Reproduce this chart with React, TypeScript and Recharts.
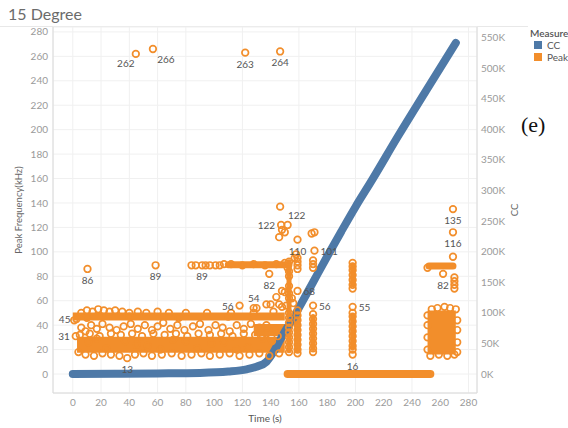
import React from 'react';
import { ComposedChart, Line, Scatter, XAxis, YAxis, CartesianGrid, LabelList } from 'recharts';

const FONT = 'Lato, "Open Sans", sans-serif';
const BLUE = '#4e79a7';
const ORANGE = '#f28e2b';

const timeTicks = [0, 20, 40, 60, 80, 100, 120, 140, 160, 180, 200, 220, 240, 260, 280];
const peakTicks = [0, 20, 40, 60, 80, 100, 120, 140, 160, 180, 200, 220, 240, 260, 280];
const ccTicks = [0, 50000, 100000, 150000, 200000, 250000, 300000, 350000, 400000, 450000, 500000, 550000];

// cumulative counts (CC) against time
const ccTime = [0, 30, 60, 90, 110, 123, 130, 137, 142, 147, 151, 156, 160, 170, 180, 190, 200, 212, 230, 250, 271];
const ccCount = [0, 500, 1000, 1800, 4000, 7700, 12000, 20000, 36000, 57000, 73000, 91000, 108000, 150000, 192000, 233000, 273000, 318000, 388000, 463000, 541000];

// solid runs of peak frequency hits, [time, kHz]
const lowCloud = [[3, 24], [150, 24]];
const upperBand = [[0, 47], [150, 47]];
const cloudJoin = [[128, 36], [151, 36]];
const row89 = [[110, 89.5], [153, 89.5]];
const zeroRun = [[152, 0], [253, 0]];
const lateBlock = [[251, 34], [271, 34]];
const lateRow = [[252, 88.5], [269, 88.5]];

// dense vertical stacks of hits, [time, kHz]
const stack153 = [[153, 19], [153, 92]];
const stack159 = [[159, 19], [159, 50]];
const stack170 = [[170, 21], [170, 47]];
const stack198Low = [[198, 22], [198, 48]];
const stack198High = [[198, 73], [198, 89]];

// individual peak hits, [time, kHz]
const peakHits = [
  // upper edge of the 45 kHz band
  [1, 44], [6, 50], [10, 52], [14, 51], [18, 53], [22, 52], [26, 51], [30, 52], [35, 51], [40, 50], [46, 51],
  [52, 50], [60, 51], [68, 50], [80, 50], [95, 50], [112, 50], [128, 50], [142, 51], [10, 46], [40, 47], [75, 46], [110, 47],
  // between the band and the low cloud
  [6, 38], [9, 35], [13, 40], [17, 37], [21, 41], [26, 38], [31, 36], [36, 39], [41, 41], [46, 37], [51, 40],
  [56, 36], [60, 39], [64, 42], [69, 37], [74, 40], [79, 36], [85, 39], [90, 41], [96, 36], [101, 40], [106, 38],
  [111, 35], [116, 40], [121, 37], [126, 41], [132, 38], [137, 40], [143, 37],
  [5, 32], [12, 33], [19, 31], [27, 33], [34, 32], [42, 33], [49, 31], [57, 33], [65, 32], [73, 33], [81, 31],
  [89, 33], [97, 32], [105, 33], [113, 31], [121, 33], [129, 32], [137, 33], [145, 31],
  // lower edge and inside of the low cloud
  [4, 18], [9, 16], [15, 15], [21, 17], [27, 16], [33, 15], [44, 16], [50, 17], [56, 15], [63, 16], [70, 17],
  [77, 15], [84, 16], [91, 17], [97, 15], [104, 16], [111, 17], [118, 15], [125, 16], [132, 17], [139, 15], [146, 17],
  [11, 26], [24, 21], [37, 27], [53, 23], [71, 28], [88, 21], [107, 26], [124, 22], [141, 27], [17, 29], [62, 20],
  [98, 25], [134, 29], [45, 24], [80, 27], [116, 20],
  // 89 kHz row
  [84, 89], [87, 89], [94, 89], [97, 89], [101, 89], [104, 89], [107, 90], [112, 90], [120, 89], [128, 90],
  [136, 89], [144, 90], [150, 91], [152, 87],
  // 55-70 kHz scatter
  [130, 54], [137, 57], [140, 57], [146, 57], [148, 55], [151, 56], [148, 68], [144, 63], [150, 67], [155, 62],
  [153, 72], [156, 58],
  // high hits around 150 s
  [146.7, 137], [148, 118], [150, 116], [146, 112], [169, 115], [171, 116], [158, 98], [157, 95],
  // columns
  [153, 18], [153, 22], [153, 26], [153, 30], [153, 34], [153, 38], [153, 42], [153, 46], [153, 50], [153, 62],
  [153, 66], [153, 80], [153, 84], [153, 92],
  [159, 17], [159, 20], [159, 24], [159, 28], [159, 32], [159, 36], [159, 40], [159, 44], [159, 48], [159, 52],
  [159, 86], [159, 89], [159, 92], [159, 95],
  [170, 18], [170, 21], [170, 25], [170, 29], [170, 33], [170, 37], [170, 41], [170, 45], [170, 49], [170, 87],
  [170, 90], [170, 93],
  [198, 20], [198, 23], [198, 27], [198, 31], [198, 35], [198, 39], [198, 43], [198, 47], [198, 50], [198, 70],
  [198, 73], [198, 77], [198, 81], [198, 85], [198, 88], [198, 91],
  // late block
  [251, 20], [251, 30], [251, 40], [251, 48], [254, 53], [258, 54], [263, 55], [267, 54], [271, 53], [272, 44],
  [272, 36], [272, 26], [272, 18], [253, 15], [259, 16], [265, 15], [270, 16],
  [269, 96], [270, 79], [270, 76], [270, 73], [270, 70], [251, 87],
];

// hits carrying a value label, [time, kHz]
const labeledHits = [
  [44.6, 262], [56.7, 266], [122, 263], [146.7, 264],
  [10.4, 86], [58.6, 89], [91.5, 89],
  [2.6, 45], [2.1, 31], [38.5, 13],
  [118, 56], [128, 54], [139, 82],
  [147.4, 122], [152, 122], [159, 110], [171, 101], [159, 68], [170, 56],
  [198, 55], [198, 16],
  [269, 135], [269, 116], [262, 82],
];
const labelSide = [
  'belowLeft', 'belowRight', 'below', 'below',
  'below', 'below', 'below',
  'left', 'left', 'below',
  'left', 'above', 'below',
  'left', 'aboveRight', 'below', 'right', 'right', 'right',
  'right', 'below',
  'below', 'below', 'below',
];

const toPoints = (pairs: number[][]) => pairs.map(([t, v]) => ({ t, v }));
const ccData = ccTime.map((t, i) => ({ t, cc: ccCount[i] }));

const Ring = (props: any) => (
  <circle cx={props.cx} cy={props.cy} r={3.3} fill="none" stroke={ORANGE} strokeWidth={1.7} />
);

const renderPeakLabel = (props: any) => {
  const { x = 0, y = 0, width = 0, height = 0, value, index } = props;
  const cx = x + width / 2;
  const cy = y + height / 2;
  const side = labelSide[index] || 'below';
  let tx = cx;
  let ty = cy + 11;
  let anchor: 'start' | 'middle' | 'end' = 'middle';
  if (side === 'left') { tx = cx - 6; ty = cy; anchor = 'end'; }
  if (side === 'right') { tx = cx + 6; ty = cy; anchor = 'start'; }
  if (side === 'above') { ty = cy - 10; }
  if (side === 'aboveRight') { tx = cx + 9; ty = cy - 10; }
  if (side === 'belowLeft') { tx = cx - 10; ty = cy + 9; }
  if (side === 'belowRight') { tx = cx + 13; ty = cy + 10; }
  return (
    <text x={tx} y={ty} textAnchor={anchor} dominantBaseline="central" fontSize={10} fill="#555" fontFamily={FONT}>
      {value}
    </text>
  );
};

const VerticalTitle = ({ viewBox, text, dx }: any) => {
  const x = (viewBox?.x ?? 0) + dx;
  const y = (viewBox?.y ?? 0) + (viewBox?.height ?? 0) / 2;
  return (
    <text x={x} y={y} transform={`rotate(-90 ${x} ${y})`} textAnchor="middle" dominantBaseline="central"
      fontSize={9.5} fill="#666" fontFamily={FONT}>
      {text}
    </text>
  );
};

const TimeTitle = ({ viewBox }: any) => {
  const x = (viewBox?.x ?? 0) + (viewBox?.width ?? 0) / 2;
  const y = (viewBox?.y ?? 0) + 25;
  return (
    <text x={x} y={y} textAnchor="middle" dominantBaseline="central" fontSize={10} fill="#555" fontFamily={FONT}>
      Time (s)
    </text>
  );
};

const tickStyle = { fill: '#9a9a9a', fontSize: 10, fontFamily: FONT };
const formatK = (v: number) => `${v / 1000}K`;

// thick orange run drawn through the peak axis
const run = (pairs: number[][], width: number, cap: 'butt' | 'round' = 'butt') => (
  <Line
    yAxisId="peak"
    data={toPoints(pairs)}
    dataKey="v"
    stroke={ORANGE}
    strokeWidth={width}
    strokeLinecap={cap}
    dot={false}
    activeDot={false}
    isAnimationActive={false}
  />
);

export default function App() {
  return (
    <div style={{ position: 'absolute', left: 0, top: 0, width: 568, height: 428, overflow: 'hidden', background: '#fff', fontFamily: FONT }}>
      <div style={{ position: 'absolute', left: 8, top: 4, fontSize: 16, color: '#6b6b6b' }}>15 Degree</div>
      <div style={{ position: 'absolute', left: 0, top: 26, width: 528, height: 1, background: '#e8e8e8' }} />
      <ComposedChart width={568} height={428} margin={{ top: 27, right: 41, bottom: 0, left: 0 }}>
        <CartesianGrid yAxisId="peak" stroke="#f0f0f0" horizontal vertical />
        <XAxis
          type="number"
          dataKey="t"
          domain={[-14, 286]}
          ticks={timeTicks}
          height={35}
          tickLine={false}
          tickSize={0}
          tickMargin={6}
          axisLine={{ stroke: '#dadada' }}
          tick={tickStyle}
          label={<TimeTitle />}
        />
        <YAxis
          yAxisId="peak"
          type="number"
          dataKey="v"
          domain={[-15.5, 284]}
          ticks={peakTicks}
          width={53}
          tickLine={false}
          tickSize={0}
          tickMargin={5}
          axisLine={{ stroke: '#dadada' }}
          tick={tickStyle}
          allowDataOverflow
          label={<VerticalTitle text="Peak Frequency(kHz)" dx={18} />}
        />
        <YAxis
          yAxisId="cc"
          orientation="right"
          type="number"
          dataKey="cc"
          domain={[-31000, 567000]}
          ticks={ccTicks}
          tickFormatter={formatK}
          width={50}
          tickLine={false}
          tickSize={0}
          tickMargin={4}
          axisLine={{ stroke: '#dadada' }}
          tick={tickStyle}
          allowDataOverflow
          label={<VerticalTitle text="CC" dx={37} />}
        />

        {run(lowCloud, 16)}
        {run(upperBand, 8)}
        {run(cloudJoin, 12)}
        {run(row89, 7, 'round')}
        {run(zeroRun, 8, 'round')}
        {run(lateBlock, 44)}
        {run(lateRow, 7, 'round')}
        {run(stack153, 5, 'round')}
        {run(stack159, 5, 'round')}
        {run(stack170, 5, 'round')}
        {run(stack198Low, 5, 'round')}
        {run(stack198High, 5, 'round')}

        <Scatter yAxisId="peak" data={toPoints(peakHits)} dataKey="v" shape={Ring} isAnimationActive={false} />
        <Scatter yAxisId="peak" data={toPoints(labeledHits)} dataKey="v" shape={Ring} isAnimationActive={false}>
          <LabelList dataKey="v" content={renderPeakLabel} />
        </Scatter>

        <Line yAxisId="cc" data={ccData} dataKey="cc" type="monotone" stroke={BLUE} strokeWidth={8} strokeLinecap="round" strokeLinejoin="round" dot={false} activeDot={false} isAnimationActive={false} />
      </ComposedChart>

      <div style={{ position: 'absolute', left: 530, top: 27, fontSize: 10, color: '#555', whiteSpace: 'nowrap', lineHeight: '12px' }}>
        <div style={{ fontWeight: 600 }}>Measure</div>
        <div style={{ display: 'flex', alignItems: 'center' }}>
          <span style={{ width: 8, height: 8, background: BLUE, marginLeft: 4, marginRight: 5, display: 'inline-block' }} />CC
        </div>
        <div style={{ display: 'flex', alignItems: 'center' }}>
          <span style={{ width: 8, height: 8, background: ORANGE, marginLeft: 4, marginRight: 5, display: 'inline-block' }} />Peak
        </div>
      </div>
      <div style={{ position: 'absolute', left: 521, top: 112, fontSize: 22, fontFamily: '"Liberation Serif", serif', color: '#111' }}>(e)</div>
    </div>
  );
}
